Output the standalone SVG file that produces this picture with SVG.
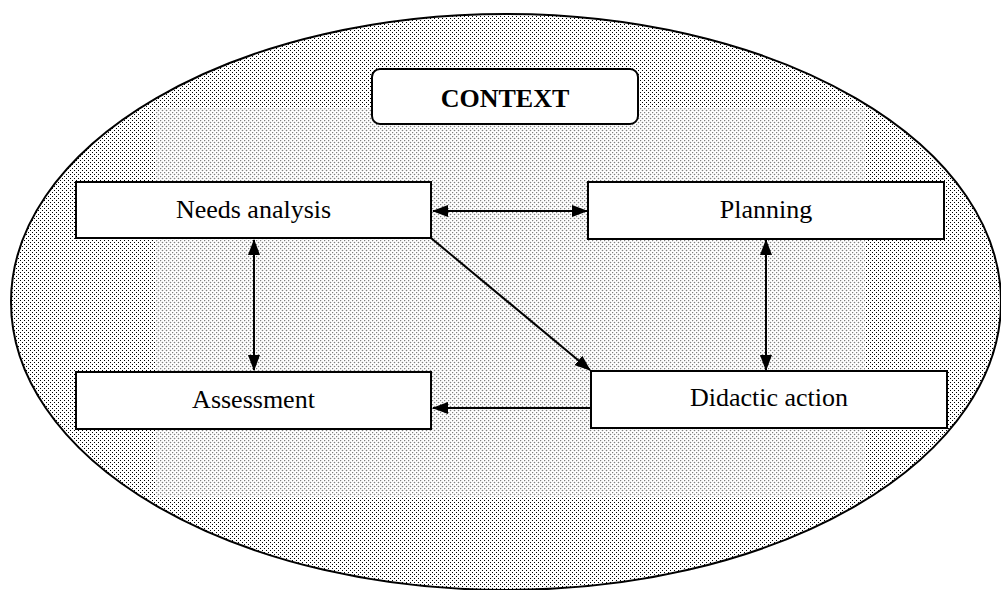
<svg xmlns="http://www.w3.org/2000/svg" width="1001" height="590" viewBox="0 0 1001 590">
  <defs>
    <style>
      .box { fill: #ffffff; stroke: #000000; stroke-width: 2; }
      .lbl { font-family: 'Liberation Serif', 'Times New Roman', serif; font-size: 26px; fill: #000000; text-anchor: middle; }
      .ttl { font-weight: bold; }
      .conn { stroke: #000000; stroke-width: 2; fill: none; }
    </style>
    <pattern id="outerDots" width="4" height="4" patternUnits="userSpaceOnUse">
      <rect width="4" height="4" fill="#ffffff"/>
      <rect x="0" y="0" width="1" height="1" fill="#000000" shape-rendering="crispEdges"/>
      <rect x="2" y="2" width="1" height="1" fill="#000000" shape-rendering="crispEdges"/>
    </pattern>
    <pattern id="innerDots" width="4" height="4" patternUnits="userSpaceOnUse">
      <rect width="4" height="4" fill="#ffffff"/>
      <circle cx="0.5" cy="0.5" r="0.8" fill="#808080"/>
      <circle cx="2.5" cy="2.5" r="0.8" fill="#808080"/>
    </pattern>
    <clipPath id="ellClip">
      <ellipse cx="506" cy="302" rx="495" ry="288"/>
    </clipPath>
    <marker id="arr" viewBox="0 0 16 12" refX="15" refY="6" markerWidth="16" markerHeight="12" markerUnits="userSpaceOnUse" orient="auto-start-reverse">
      <path d="M0,0 L16,6 L0,12 Z" fill="#000000"/>
    </marker>
  </defs>

  <rect width="1001" height="590" fill="#ffffff"/>

  <g id="context-area">
    <ellipse cx="506" cy="302" rx="495" ry="288" fill="url(#outerDots)"/>
    <rect x="156" y="108" width="709" height="389" fill="url(#innerDots)" clip-path="url(#ellClip)"/>
    <ellipse cx="506" cy="302" rx="495" ry="288" fill="none" stroke="#000000" stroke-width="2"/>
  </g>

  <g id="connectors">
    <line class="conn" x1="433" y1="211" x2="587" y2="211" marker-start="url(#arr)" marker-end="url(#arr)"/>
    <line class="conn" x1="254" y1="240" x2="254" y2="370" marker-start="url(#arr)" marker-end="url(#arr)"/>
    <line class="conn" x1="766" y1="240" x2="766" y2="370" marker-start="url(#arr)" marker-end="url(#arr)"/>
    <line class="conn" x1="431" y1="238" x2="590" y2="370" marker-end="url(#arr)"/>
    <line class="conn" x1="591" y1="408" x2="433" y2="408" marker-end="url(#arr)"/>
  </g>

  <g id="node-context">
    <rect class="box" x="372" y="69" width="266" height="55" rx="8" ry="8"/>
    <text class="lbl ttl" x="505" y="107" font-family="Liberation Serif, serif">CONTEXT</text>
  </g>

  <g id="node-needs-analysis">
    <rect class="box" x="76" y="182" width="355" height="56"/>
    <text class="lbl" x="253.5" y="218" font-family="Liberation Serif, serif">Needs analysis</text>
  </g>

  <g id="node-planning">
    <rect class="box" x="588" y="182" width="356" height="57"/>
    <text class="lbl" x="766" y="218" font-family="Liberation Serif, serif">Planning</text>
  </g>

  <g id="node-assessment">
    <rect class="box" x="76" y="372" width="355" height="57"/>
    <text class="lbl" x="253.5" y="408" font-family="Liberation Serif, serif">Assessment</text>
  </g>

  <g id="node-didactic-action">
    <rect class="box" x="591" y="371" width="356" height="57"/>
    <text class="lbl" x="769" y="406" font-family="Liberation Serif, serif">Didactic action</text>
  </g>
</svg>
